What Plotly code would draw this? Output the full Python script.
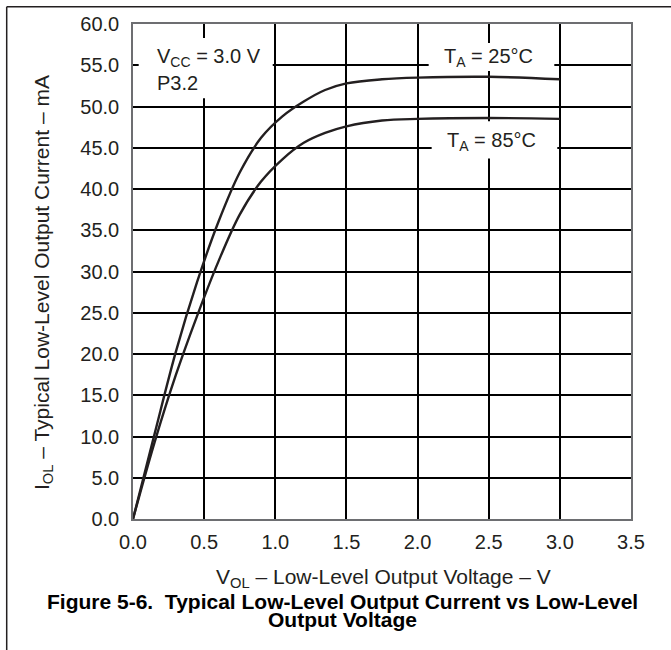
import plotly.graph_objects as go

# Data (V_OL in V, I_OL in mA)
v_25 = [0, 0.15, 0.3, 0.45, 0.6, 0.75, 0.9, 1.05, 1.2, 1.35, 1.5, 1.75, 2.0, 2.5, 3.0]
i_25 = [0, 10.2, 20.2, 28.7, 36.0, 42.0, 46.2, 48.8, 50.6, 52.0, 52.8, 53.3, 53.5, 53.6, 53.3]

v_85 = [0, 0.15, 0.3, 0.45, 0.6, 0.75, 0.9, 1.05, 1.2, 1.35, 1.5, 1.75, 2.0, 2.5, 3.0]
i_85 = [0, 9.2, 17.4, 24.6, 31.2, 36.9, 40.9, 43.6, 45.6, 46.8, 47.6, 48.3, 48.5, 48.6, 48.5]

x_ticks = [0, 0.5, 1.0, 1.5, 2.0, 2.5, 3.0, 3.5]
y_ticks = [0, 5, 10, 15, 20, 25, 30, 35, 40, 45, 50, 55, 60]

FONT = "Liberation Sans, Arial, Helvetica, sans-serif"
LINE = "#231f20"
TXT = "#231f20"

fig = go.Figure()
fig.add_trace(go.Scatter(x=v_25, y=i_25, mode="lines",
                         line=dict(color=LINE, width=2.4, shape="spline", smoothing=1.0),
                         name="TA = 25°C", showlegend=False, hoverinfo="skip"))
fig.add_trace(go.Scatter(x=v_85, y=i_85, mode="lines",
                         line=dict(color=LINE, width=2.4, shape="spline", smoothing=1.0),
                         name="TA = 85°C", showlegend=False, hoverinfo="skip"))

W, H = 671, 650
L, R, T, B = 133, 631, 24, 519
pw, ph = R - L, B - T

def px(x):
    return (x - L) / pw

def py(y):
    return (B - y) / ph

# white boxes behind the labels (they interrupt the grid)
boxes = [
    (0.04, 0.982, 51.0, 58.3),
    (2.078, 2.961, 54.3, 57.7),
    (2.099, 2.982, 43.7, 48.2),
]
shapes = []
for x0, x1, y0, y1 in boxes:
    shapes.append(dict(type="rect", xref="x", yref="y", x0=x0, x1=x1, y0=y0, y1=y1,
                       fillcolor="white", line=dict(width=0), layer="above"))
# outer figure frame (top and left edges visible)
shapes.append(dict(type="line", xref="paper", yref="paper", x0=px(6.7), x1=px(W + 5), y0=py(6.7), y1=py(6.7),
                   line=dict(color="#231f20", width=1.5)))
shapes.append(dict(type="line", xref="paper", yref="paper", x0=px(6.7), x1=px(6.7), y0=py(6.7), y1=py(H + 5),
                   line=dict(color="#231f20", width=1.5)))

annotations = [
    dict(x=0.155, y=56.0, xref="x", yref="y", text="V<sub>CC</sub> = 3.0 V", showarrow=False, xanchor="left",
         font=dict(family=FONT, size=20, color=TXT)),
    dict(x=0.155, y=52.8, xref="x", yref="y", text="P3.2", showarrow=False, xanchor="left",
         font=dict(family=FONT, size=20, color=TXT)),
    dict(x=2.5, y=56.0, xref="x", yref="y", text="T<sub>A</sub> = 25°C", showarrow=False, xanchor="center",
         font=dict(family=FONT, size=20, color=TXT)),
    dict(x=2.52, y=45.8, xref="x", yref="y", text="T<sub>A</sub> = 85°C", showarrow=False, xanchor="center",
         font=dict(family=FONT, size=20, color=TXT)),
    dict(x=px(43), y=py(283), xref="paper", yref="paper", textangle=-90,
         text="I<sub>OL</sub> – Typical Low-Level Output Current – mA", showarrow=False,
         xanchor="center", yanchor="middle", font=dict(family=FONT, size=21, color=TXT)),
    dict(x=px(383), y=py(578), xref="paper", yref="paper",
         text="V<sub>OL</sub> – Low-Level Output Voltage – V", showarrow=False,
         xanchor="center", yanchor="middle", font=dict(family=FONT, size=21, color=TXT)),
    dict(x=px(342), y=py(601), xref="paper", yref="paper",
         text="<b>Figure 5-6.  Typical Low-Level Output Current vs Low-Level</b>", showarrow=False,
         xanchor="center", yanchor="middle", font=dict(family=FONT, size=21, color="black")),
    dict(x=px(342), y=py(619), xref="paper", yref="paper",
         text="<b>Output Voltage</b>", showarrow=False,
         xanchor="center", yanchor="middle", font=dict(family=FONT, size=21, color="black")),
]

fig.update_layout(
    width=W, height=H,
    margin=dict(l=L, r=W - R, t=T, b=H - B, pad=0),
    paper_bgcolor="white", plot_bgcolor="white",
    font=dict(family=FONT, size=20, color=TXT),
    shapes=shapes, annotations=annotations,
    showlegend=False,
    xaxis=dict(range=[0, 3.5], tickvals=x_ticks, tickformat=".1f", showgrid=True, gridcolor="black", gridwidth=2,
               zeroline=False, showline=True, linecolor="#6d6e71", linewidth=1.5, mirror=True,
               ticks="", ticklabelstandoff=4, tickfont=dict(size=20, color=TXT), fixedrange=True),
    yaxis=dict(range=[0, 60], tickvals=y_ticks, tickformat=".1f", showgrid=True, gridcolor="black", gridwidth=2,
               zeroline=False, showline=True, linecolor="#6d6e71", linewidth=1.5, mirror=True,
               ticks="", ticklabelstandoff=8, tickfont=dict(size=20, color=TXT), fixedrange=True),
)

fig.write_html("out.html", config={"displayModeBar": False},
               post_script="document.body.style.margin='0px';document.body.style.overflow='hidden';")
